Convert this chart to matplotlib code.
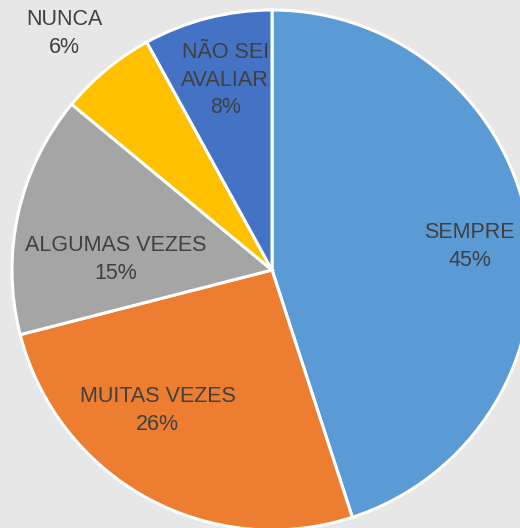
import matplotlib.pyplot as plt

categorias = ['SEMPRE', 'MUITAS VEZES', 'ALGUMAS VEZES', 'NUNCA', 'NÃO SEI\nAVALIAR']
valores = [45, 26, 15, 6, 8]
cores = ['#5B9BD5', '#ED7D31', '#A5A5A5', '#FFC000', '#4472C4']
# posicao dos rotulos (coordenadas do grafico, raio = 1)
pos_rotulos = [(0.76, 0.09), (-0.44, -0.54), (-0.60, 0.04), (-0.80, 0.91), (-0.18, 0.73)]

fig = plt.figure(figsize=(5.2, 5.28), dpi=100)
fig.patch.set_facecolor('#E7E7E7')
ax = fig.add_axes([0, 0, 1, 1])
ax.set_facecolor('#E7E7E7')

ax.pie(valores, colors=cores, startangle=90, counterclock=False, radius=1,
       wedgeprops=dict(edgecolor='white', linewidth=2.2))

for cat, v, (x, y) in zip(categorias, valores, pos_rotulos):
    ax.text(x, y, '%s\n%d%%' % (cat, v), ha='center', va='center',
            fontsize=15.5, color='#404040', linespacing=1.4,
            family=['Liberation Sans', 'DejaVu Sans'])

ax.set_xlim(-272/260, 248/260)
ax.set_ylim(-258/260, 270/260)
ax.set_aspect('equal')
ax.axis('off')

fig.savefig('out.png', dpi=100, facecolor=fig.get_facecolor())
